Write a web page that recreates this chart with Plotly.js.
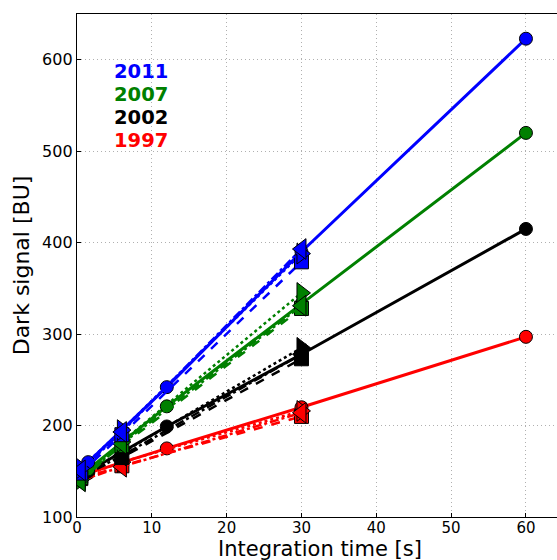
<!DOCTYPE html>
<html>
<head>
<meta charset="utf-8">
<script src="https://cdn.plot.ly/plotly-3.0.1.min.js"></script>
<style>html,body{margin:0;padding:0;overflow:hidden;background:#fff}</style>
</head>
<body>
<div id="chart" style="width:557px;height:560px"></div>
<script>
// Integration times [s]
const xCircle = [1.5, 12, 30, 60];
const xOther = [0.5, 6, 30];

// Years and colours
const years = ["1997", "2002", "2007", "2011"];
const colors = ["#ff0000", "#000000", "#008000", "#0000ff"];

// Dark signal [BU] per year
const circle1997 = [148, 175, 220, 297];
const square1997 = [142, 156, 210];
const right1997 = [144, 160, 216];
const left1997 = [140, 155, 214];

const circle2002 = [150, 199, 278, 415];
const square2002 = [145, 165, 273];
const right2002 = [147, 170, 285];
const left2002 = [144, 167, 278];

const circle2007 = [152, 221, 333, 520];
const square2007 = [143, 178, 328];
const right2007 = [141, 182, 345];
const left2007 = [139, 180, 331];

const circle2011 = [160, 242, 390, 623];
const square2011 = [148, 190, 379];
const right2011 = [153, 195, 388];
const left2011 = [151, 193, 393];

const seriesByYear = {
  "1997": [circle1997, square1997, right1997, left1997],
  "2002": [circle2002, square2002, right2002, left2002],
  "2007": [circle2007, square2007, right2007, left2007],
  "2011": [circle2011, square2011, right2011, left2011]
};

const styles = [
  {symbol: "circle", dash: "solid", size: 13, width: 3},
  {symbol: "square", dash: "dash", size: 14, width: 2.5},
  {symbol: "triangle-right", dash: "dot", size: 18, width: 2.5},
  {symbol: "triangle-left", dash: "dashdot", size: 18, width: 2.5}
];

const traces = [];
years.forEach((yr, i) => {
  seriesByYear[yr].forEach((vals, k) => {
    const st = styles[k];
    traces.push({
      x: k === 0 ? xCircle : xOther,
      y: vals,
      mode: "lines+markers",
      type: "scatter",
      showlegend: false,
      line: {color: colors[i], width: st.width, dash: st.dash},
      marker: {symbol: st.symbol, size: st.size, color: colors[i],
               line: {color: "#000", width: 1}}
    });
  });
});

const labelYears = ["2011", "2007", "2002", "1997"];
const labelColors = ["#0000ff", "#008000", "#000000", "#ff0000"];
const labelY = [587, 562, 537, 512];
const annotations = labelYears.map((t, i) => ({
  x: 4.7, y: labelY[i], xref: "x", yref: "y", text: "<b>" + t + "</b>",
  showarrow: false, xanchor: "left", yanchor: "middle",
  font: {family: "DejaVu Sans", size: 19.5, color: labelColors[i]}
}));

// x-axis title placed as an annotation (pixel position converted to paper coords)
const plotW = 557 - 77, plotH = 560 - 14 - 43;
annotations.push({
  x: (320 - 77) / plotW, y: (517 - 562) / plotH, xref: "paper", yref: "paper",
  text: "Integration time [s]",
  showarrow: false, xanchor: "center", yanchor: "bottom", borderpad: 0,
  font: {family: "DejaVu Sans", size: 21, color: "#000"}
});

const layout = {
  width: 557, height: 560,
  margin: {l: 77, r: 0, t: 14, b: 43},
  paper_bgcolor: "#fff", plot_bgcolor: "#fff",
  font: {family: "DejaVu Sans", size: 16, color: "#000"},
  xaxis: {
    range: [0, 64.15], tickvals: [0, 10, 20, 30, 40, 50, 60],
    showgrid: true, gridcolor: "#b0b0b0", griddash: "1px,3px", gridwidth: 1,
    zeroline: false, showline: true, linecolor: "#000", linewidth: 1.2, mirror: true,
    ticks: "inside", ticklen: 4, tickcolor: "#000",
    tickfont: {family: "DejaVu Sans", size: 15},
    ticklabelstandoff: -3,
    automargin: false
  },
  yaxis: {
    range: [100, 650], tickvals: [100, 200, 300, 400, 500, 600],
    showgrid: true, gridcolor: "#b0b0b0", griddash: "1px,3px", gridwidth: 1,
    zeroline: false, showline: true, linecolor: "#000", linewidth: 1.2, mirror: false,
    ticks: "inside", ticklen: 4, tickcolor: "#000",
    tickfont: {family: "DejaVu Sans", size: 16},
    automargin: false,
    title: {text: "Dark signal [BU]", font: {family: "DejaVu Sans", size: 22}, standoff: 6}
  },
  annotations: annotations
};

Plotly.newPlot("chart", traces, layout, {displayModeBar: false, staticPlot: true});
</script>
</body>
</html>
